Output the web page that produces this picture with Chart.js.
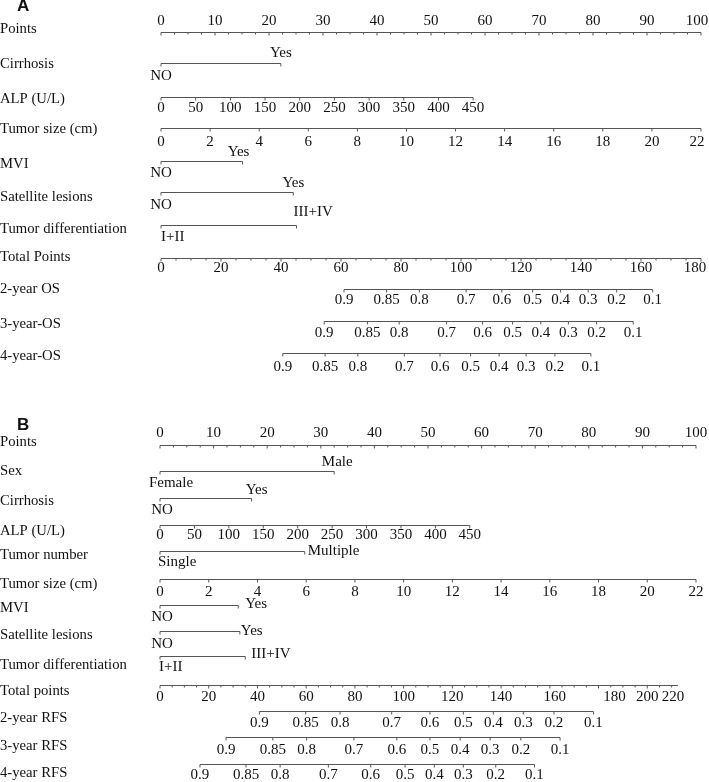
<!DOCTYPE html>
<html>
<head>
<meta charset="utf-8">
<script src="https://cdn.jsdelivr.net/npm/chart.js@4"></script>
<style>
  body { margin: 0; background: #fff; }
  .panel { position: relative; width: 709px; }
</style>
</head>
<body>
<div class="panel" style="height:392px"><canvas id="nomoA"></canvas></div>
<div class="panel" style="height:390px"><canvas id="nomoB"></canvas></div>
<script>
// ---- shared scales ----
const pointTicks = [0, 10, 20, 30, 40, 50, 60, 70, 80, 90, 100];
const alpTicks = [0, 50, 100, 150, 200, 250, 300, 350, 400, 450];
const sizeTicks = [0, 2, 4, 6, 8, 10, 12, 14, 16, 18, 20, 22];
const probLabels = ['0.9', '0.85', '0.8', '0.7', '0.6', '0.5', '0.4', '0.3', '0.2', '0.1'];

const cirrhosisLevels = ['NO', 'Yes'];
const mviLevels = ['NO', 'Yes'];
const satelliteLevels = ['NO', 'Yes'];
const diffLevels = ['I+II', 'III+IV'];
const sexLevels = ['Female', 'Male'];
const numberLevels = ['Single', 'Multiple'];

// ---- panel A: OS nomogram (points per level / per unit) ----
const cirrhosisPtsA = [0, 22.2];
const alpMaxPtsA = 57.8;          // points at ALP = 450
const sizeMaxPtsA = 100;          // points at 22 cm
const mviPtsA = [0, 15.1];
const satellitePtsA = [0, 24.5];
const diffPtsA = [0, 25.1];
const totalTicksA = [0, 20, 40, 60, 80, 100, 120, 140, 160, 180];
const totalFullA = 180;           // total points under 100 points
const os2Total = [61, 75.2, 86.1, 101.7, 113.6, 123.9, 133.2, 142.4, 151.9, 163.9];
const os3Total = [54.4, 68.8, 79.4, 95.2, 107.2, 117.2, 126.6, 135.8, 145.2, 157.4];
const os4Total = [40.6, 54.7, 65.6, 81.1, 93, 103.2, 112.7, 121.7, 131.3, 143.3];

// ---- panel B: RFS nomogram ----
const sexPtsB = [0, 32.5];
const cirrhosisPtsB = [0, 17.1];
const alpMaxPtsB = 57.8;
const numberPtsB = [0, 27.0];
const sizeMaxPtsB = 100;
const mviPtsB = [0, 14.6];
const satellitePtsB = [0, 14.9];
const diffPtsB = [0, 15.9];
const totalTicksB = [0, 20, 40, 60, 80, 100, 120, 140, 160, 180, 200, 220];
const totalFullB = 220;
const totalEndB = 212.6;
const rfs2Total = [40.8, 59.8, 73.9, 95.1, 110.8, 124.5, 136.8, 149.1, 161.7, 177.9];
const rfs3Total = [27.1, 46.3, 60.2, 79.6, 97.2, 110.8, 123.2, 135.5, 148.1, 164.2];
const rfs4Total = [16.4, 35.3, 49.3, 69.1, 86.5, 100.6, 112.6, 124.5, 137.8, 153.7];

// ---- look ----
const LINE = '#555';
const INK = '#111';
const NAME_FONT = '14.7px "Liberation Serif", "Times New Roman", serif';
const TICK_FONT = '15px "Liberation Serif", "Times New Roman", serif';
const TAG_FONT = 'bold 17px "Liberation Sans", Arial, sans-serif';
const MAJOR = 3;
const MINOR = 2;

function near(list, v) { return list.some(t => Math.abs(t - v) < 1e-6); }

function numAxis(y, labelY, ticks, ptsPerUnit, opt = {}) {
  const end = opt.end != null ? opt.end : ticks[ticks.length - 1];
  const minor = [];
  if (opt.minorStep) {
    for (let k = 0; k * opt.minorStep <= end + 1e-9; k++) {
      const v = k * opt.minorStep;
      if (!near(ticks, v)) minor.push(v * ptsPerUnit);
    }
  }
  return {
    y, from: 0, to: end * ptsPerUnit,
    major: ticks.filter(v => v <= end + 1e-9).map(v => v * ptsPerUnit),
    minor,
    labels: ticks.map(v => ({ text: String(v), x: v * ptsPerUnit, y: labelY, align: 'center',
      dx: (opt.nudge && opt.nudge[v]) || 0 }))
  };
}

function probAxis(y, labelY, totals, ptsPerTotal) {
  const major = totals.map(t => t * ptsPerTotal);
  return {
    y, from: major[0], to: major[major.length - 1], major, minor: [],
    labels: probLabels.map((s, i) => ({ text: s, x: major[i], y: labelY, align: 'center', dx: 0 }))
  };
}

function catAxis(y, levels, pts, place) {
  return {
    y, from: 0, to: pts[pts.length - 1], major: pts, minor: [],
    labels: levels.map((s, i) => ({ text: s, x: pts[i], y: place[i].y,
      align: place[i].align || 'center', dx: place[i].dx || 0 }))
  };
}

function drawNomogram(id, top, height, padLeft, padRight, tag, names, rows) {
  const datasets = rows.map(r => ({
    data: [{ x: r.from, y: r.y }, { x: r.to, y: r.y }],
    showLine: true, borderColor: LINE, borderWidth: 1, pointRadius: 0, clip: false
  }));
  datasets.push({
    data: rows.flatMap(r => r.major.map(x => ({ x, y: r.y + MAJOR / 2 }))),
    showLine: false, pointStyle: 'line', pointRotation: 90, pointRadius: MAJOR / 2,
    pointBorderColor: LINE, pointBorderWidth: 1, clip: false
  });
  datasets.push({
    data: rows.flatMap(r => r.minor.map(x => ({ x, y: r.y + MINOR / 2 }))),
    showLine: false, pointStyle: 'line', pointRotation: 90, pointRadius: MINOR / 2,
    pointBorderColor: LINE, pointBorderWidth: 1, clip: false
  });

  new Chart(document.getElementById(id), {
    type: 'scatter',
    data: { datasets },
    options: {
      responsive: true,
      maintainAspectRatio: false,
      animation: false,
      events: [],
      layout: { padding: { left: padLeft, right: padRight, top: 0, bottom: 0 }, autoPadding: false },
      plugins: { legend: { display: false }, tooltip: { enabled: false } },
      scales: {
        x: { type: 'linear', min: 0, max: 100, display: false },
        y: { type: 'linear', min: top, max: top + height, reverse: true, display: false }
      }
    },
    plugins: [{
      id: 'nomoText',
      afterDatasetsDraw(chart) {
        const { ctx, scales: { x, y } } = chart;
        ctx.save();
        ctx.fillStyle = INK;
        ctx.textBaseline = 'middle';
        ctx.font = TAG_FONT;
        ctx.textAlign = 'left';
        ctx.fillText(tag.text, 17, y.getPixelForValue(tag.y));
        ctx.font = NAME_FONT;
        names.forEach(n => ctx.fillText(n.text, 0, y.getPixelForValue(n.y)));
        ctx.font = TICK_FONT;
        rows.forEach(r => r.labels.forEach(l => {
          ctx.textAlign = l.align;
          ctx.fillText(l.text, x.getPixelForValue(l.x) + l.dx, y.getPixelForValue(l.y));
        }));
        ctx.restore();
      }
    }]
  });
}

// ---- panel A layout (page y) ----
drawNomogram('nomoA', 0, 392, 161, 8, { text: 'A', y: 6.5 }, [
  { text: 'Points', y: 29 },
  { text: 'Cirrhosis', y: 64 },
  { text: 'ALP (U/L)', y: 99 },
  { text: 'Tumor size (cm)', y: 129 },
  { text: 'MVI', y: 164 },
  { text: 'Satellite lesions', y: 197 },
  { text: 'Tumor differentiation', y: 229 },
  { text: 'Total Points', y: 257.5 },
  { text: '2-year OS', y: 289 },
  { text: '3-year-OS', y: 324 },
  { text: '4-year-OS', y: 356.5 }
], [
  numAxis(32.5, 21, pointTicks, 1, { minorStep: 2.5, nudge: { 100: -4 } }),
  catAxis(63.5, cirrhosisLevels, cirrhosisPtsA, [{ y: 76 }, { y: 53 }]),
  numAxis(97.5, 108, alpTicks, alpMaxPtsA / 450),
  numAxis(128.5, 142, sizeTicks, sizeMaxPtsA / 22, { nudge: { 22: -4 } }),
  catAxis(161.5, mviLevels, mviPtsA, [{ y: 173 }, { y: 152, dx: -4 }]),
  catAxis(192.5, satelliteLevels, satellitePtsA, [{ y: 205 }, { y: 183 }]),
  catAxis(225.5, diffLevels, diffPtsA, [{ y: 237, align: 'left' }, { y: 212, align: 'left', dx: -3 }]),
  numAxis(258.5, 268, totalTicksA, 100 / totalFullA, { minorStep: 5, nudge: { 180: -6 } }),
  probAxis(289.5, 300, os2Total, 100 / totalFullA),
  probAxis(321.5, 333, os3Total, 100 / totalFullA),
  probAxis(353.5, 367, os4Total, 100 / totalFullA)
]);

// ---- panel B layout (page y) ----
drawNomogram('nomoB', 392, 390, 160, 13, { text: 'B', y: 425 }, [
  { text: 'Points', y: 442.5 },
  { text: 'Sex', y: 471.5 },
  { text: 'Cirrhosis', y: 501 },
  { text: 'ALP (U/L)', y: 531 },
  { text: 'Tumor number', y: 555 },
  { text: 'Tumor size (cm)', y: 584 },
  { text: 'MVI', y: 608.5 },
  { text: 'Satellite lesions', y: 635 },
  { text: 'Tumor differentiation', y: 665 },
  { text: 'Total points', y: 691 },
  { text: '2-year RFS', y: 718.5 },
  { text: '3-year RFS', y: 746.5 },
  { text: '4-year RFS', y: 773.5 }
], [
  numAxis(445.5, 433, pointTicks, 1, { minorStep: 2.5 }),
  catAxis(471.5, sexLevels, sexPtsB, [{ y: 483.5, dx: 11 }, { y: 462, dx: 3 }]),
  catAxis(498.5, cirrhosisLevels, cirrhosisPtsB, [{ y: 510, dx: 2 }, { y: 490, dx: 5 }]),
  numAxis(525.5, 535.5, alpTicks, alpMaxPtsB / 450),
  catAxis(551.5, numberLevels, numberPtsB, [{ y: 562, align: 'left', dx: -2 }, { y: 551, align: 'left', dx: 3 }]),
  numAxis(579.5, 592, sizeTicks, sizeMaxPtsB / 22),
  catAxis(605.5, mviLevels, mviPtsB, [{ y: 617, dx: 2 }, { y: 604, align: 'left', dx: 7 }]),
  catAxis(631.5, satelliteLevels, satellitePtsB, [{ y: 644, dx: 2 }, { y: 631, align: 'left', dx: 1 }]),
  catAxis(656.5, diffLevels, diffPtsB, [{ y: 667.5, align: 'left', dx: -1 }, { y: 654, align: 'left', dx: 6 }]),
  numAxis(685.5, 697.5, totalTicksB, 100 / totalFullB, { minorStep: 5, end: totalEndB, nudge: { 160: 5, 180: 16, 220: -23 } }),
  probAxis(711.5, 723, rfs2Total, 100 / totalFullB),
  probAxis(737.5, 750, rfs3Total, 100 / totalFullB),
  probAxis(764.5, 775.5, rfs4Total, 100 / totalFullB)
]);
</script>
</body>
</html>
